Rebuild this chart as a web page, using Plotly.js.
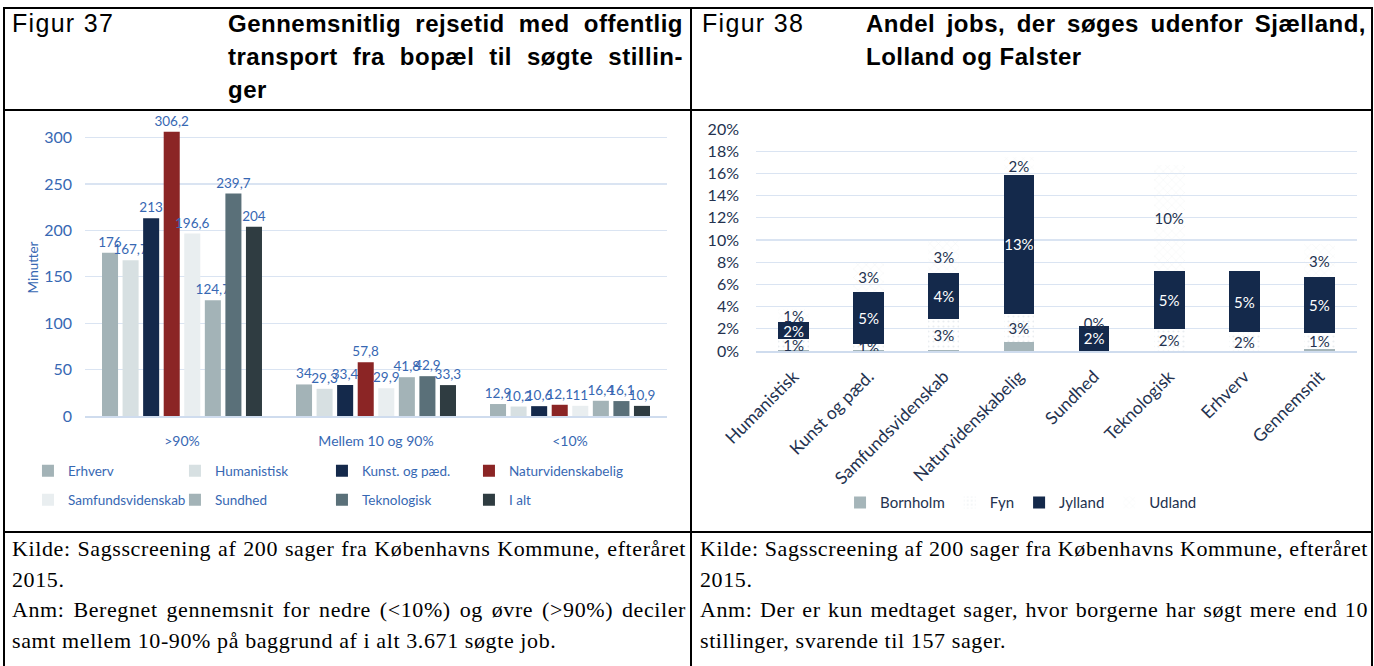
<!DOCTYPE html>
<html><head><meta charset="utf-8">
<script src="https://cdn.plot.ly/plotly-3.0.1.min.js"></script>
<style>
body{margin:0;width:1374px;height:666px;background:#fff;position:relative;overflow:hidden;font-family:"Liberation Sans",Arial,sans-serif;color:#000;}
.ln{position:absolute;background:#000;}
.t{position:absolute;white-space:nowrap;}
.hd{font-size:25px;line-height:33px;letter-spacing:1.3px;}
.bt{font-weight:bold;font-size:24px;line-height:33px;letter-spacing:0.5px;}
.just{display:block;text-align:justify;text-align-last:justify;white-space:nowrap;}
.fn{font-family:"Liberation Serif","Times New Roman",serif;font-size:22px;line-height:30.7px;letter-spacing:0.6px;}
.chart{position:absolute;}
</style></head>
<body>
<div class="ln" style="left:3px;top:7px;width:1370px;height:2px"></div>
<div class="ln" style="left:3px;top:109px;width:1370px;height:2px"></div>
<div class="ln" style="left:3px;top:531px;width:1370px;height:2px"></div>
<div class="ln" style="left:3px;top:7px;width:2px;height:660px"></div>
<div class="ln" style="left:690px;top:7px;width:2px;height:660px"></div>
<div class="ln" style="left:1371px;top:7px;width:2px;height:660px"></div>

<div class="t hd" style="left:12px;top:7px">Figur 37</div>
<div class="t bt" style="left:228px;top:7px;width:455px">
  <div class="just">Gennemsnitlig rejsetid med offentlig</div>
  <div class="just">transport fra bopæl til søgte stillin-</div>
  <div>ger</div>
</div>
<div class="t hd" style="left:702px;top:7px">Figur 38</div>
<div class="t bt" style="left:866px;top:7px;width:500px">
  <div class="just">Andel jobs, der søges udenfor Sjælland,</div>
  <div>Lolland og Falster</div>
</div>

<div class="t fn" style="left:12px;top:534px;width:674px">
  <div class="just">Kilde: Sagsscreening af 200 sager fra Københavns Kommune, efteråret</div>
  <div>2015.</div>
  <div class="just">Anm: Beregnet gennemsnit for nedre (&lt;10%) og øvre (&gt;90%) deciler</div>
  <div>samt mellem 10-90% på baggrund af i alt 3.671 søgte job.</div>
</div>
<div class="t fn" style="left:700px;top:534px;width:668px">
  <div class="just">Kilde: Sagsscreening af 200 sager fra Københavns Kommune, efteråret</div>
  <div>2015.</div>
  <div class="just">Anm: Der er kun medtaget sager, hvor borgerne har søgt mere end 10</div>
  <div>stillinger, svarende til 157 sager.</div>
</div>

<div id="left" class="chart" style="left:5px;top:111px;width:685px;height:420px"></div>
<div id="right" class="chart" style="left:692px;top:111px;width:679px;height:420px"></div>

<script>
// ---- Figur 37 data ----
const groups = [">90%", "Mellem 10 og 90%", "<10%"];
const fields = ["Erhverv", "Humanistisk", "Kunst. og pæd.", "Naturvidenskabelig", "Samfundsvidenskab", "Sundhed", "Teknologisk", "I alt"];
const erhverv = [176, 34, 12.9];
const humanistisk = [167.7, 29.3, 10.2];
const kunst = [213, 33.4, 10.6];
const natur = [306.2, 57.8, 12.1];
const samfund = [196.6, 29.9, 11];
const sundhed = [124.7, 41.8, 16.4];
const tekno = [239.7, 42.9, 16.1];
const ialt = [204, 33.3, 10.9];
const yTicks37 = [0, 50, 100, 150, 200, 250, 300];

// ---- Figur 38 data (percent) ----
const categories = ["Humanistisk", "Kunst og pæd.", "Samfundsvidenskab", "Naturvidenskabelig", "Sundhed", "Teknologisk", "Erhverv", "Gennemsnit"];
const regions = ["Bornholm", "Fyn", "Jylland", "Udland"];
const bornholm = [0.05, 0.1, 0.1, 0.77, 0, 0, 0, 0.15];
const fyn = [0.99, 0.55, 2.75, 2.53, 0, 1.96, 1.69, 1.48];
const jylland = [1.55, 4.7, 4.18, 12.6, 2.28, 5.22, 5.49, 5.07];
const udland = [1.2, 2.6, 2.86, 1.6, 0.4, 9.6, 0, 2.9];
const yTicks38 = [0, 2, 4, 6, 8, 10, 12, 14, 16, 18, 20];

const blue = '#3768b3';
const navy = '#24324f';
const FONT = 'Lato, "Open Sans", sans-serif';

const leftSeries = [erhverv, humanistisk, kunst, natur, samfund, sundhed, tekno, ialt];
const leftColors = ['#a3b3b7', '#d7e0e2', '#14294b', '#8b2525', '#e9eef0', '#a3b3b7', '#5a7079', '#2f3c41'];
const leftTraces = leftSeries.map((vals, i) => ({
  type: 'bar', name: fields[i], x: groups, y: vals,
  marker: {color: leftColors[i]},
  text: vals.map(v => String(v).replace('.', ',')),
  textposition: 'outside', constraintext: 'none', cliponaxis: false,
  textfont: {color: blue, size: 13.5, family: FONT},
  legend: i < 4 ? 'legend' : 'legend2',
  legendwidth: (i % 4 === 3) ? 150 : 102
}));

const legBase = {orientation: 'h', xanchor: 'left', x: -0.098, yanchor: 'middle',
  font: {color: blue, size: 13.5, family: FONT}, bgcolor: 'rgba(0,0,0,0)'};

Plotly.newPlot('left', leftTraces, {
  width: 685, height: 420,
  margin: {l: 80, r: 23, t: 8, b: 115},
  paper_bgcolor: 'rgba(0,0,0,0)', plot_bgcolor: 'rgba(0,0,0,0)',
  barmode: 'group', bargap: 0.152, bargroupgap: 0.22,
  font: {family: FONT},
  xaxis: {showgrid: false, showline: true, linecolor: '#cfdcee', linewidth: 1.5, ticks: '',
    tickfont: {color: blue, size: 14, family: FONT}, ticklabelstandoff: 12},
  yaxis: {range: [0, 320], tickvals: yTicks37, gridcolor: '#dae4f2', gridwidth: 1.2, zeroline: false,
    showline: false, ticks: '', tickfont: {color: blue, size: 16, family: FONT}, ticklabelstandoff: 12,
    title: {text: 'Minutter', font: {color: blue, size: 13.5, family: FONT}, standoff: 2}},
  showlegend: true,
  legend: Object.assign({}, legBase, {y: -0.185}),
  legend2: Object.assign({}, legBase, {y: -0.283})
}, {staticPlot: true});

const pct = v => v > 0 ? Math.round(v) + '%' : '';
const rightTraces = [
  {type: 'bar', name: regions[0], x: categories, y: bornholm, marker: {color: '#a5b5b9'}},
  {type: 'bar', name: regions[1], x: categories, y: fyn,
    marker: {color: '#e9edf0', pattern: {shape: '.', size: 5, solidity: 0.15, fillmode: 'replace'}},
    text: fyn.map(pct), textposition: 'inside', textangle: 0, constraintext: 'none', insidetextanchor: 'middle',
    insidetextfont: {color: navy, size: 15, family: FONT}},
  {type: 'bar', name: regions[2], x: categories, y: jylland, marker: {color: '#14294b'},
    text: jylland.map(pct), textposition: 'inside', textangle: 0, constraintext: 'none', insidetextanchor: 'middle',
    insidetextfont: {color: '#ffffff', size: 15, family: FONT}},
  {type: 'bar', name: regions[3], x: categories, y: udland,
    marker: {color: '#e6eaed', pattern: {shape: 'x', size: 6, solidity: 0.08, fillmode: 'replace'}},
    text: udland.map(pct), textposition: 'inside', textangle: 0, constraintext: 'none', insidetextanchor: 'middle',
    insidetextfont: {color: navy, size: 15, family: FONT}}
];

Plotly.newPlot('right', rightTraces, {
  width: 679, height: 420,
  margin: {l: 64, r: 14, t: 18, b: 177},
  paper_bgcolor: 'rgba(0,0,0,0)', plot_bgcolor: 'rgba(0,0,0,0)',
  barmode: 'stack', bargap: 0.59,
  font: {family: FONT},
  xaxis: {showgrid: false, showline: true, linecolor: '#cfdcee', linewidth: 1.5, ticks: '', tickangle: -45,
    tickfont: {color: navy, size: 17.5, family: FONT}, ticklabelstandoff: 7},
  yaxis: {range: [0, 20], tickvals: yTicks38, ticktext: yTicks38.map(v => v + '%'), gridcolor: '#dae4f2', gridwidth: 1.2, zeroline: false,
    showline: false, ticks: '', tickfont: {color: navy, size: 16, family: FONT}, ticklabelstandoff: 16},
  showlegend: true,
  legend: {orientation: 'h', xanchor: 'center', x: 0.441, yanchor: 'middle', y: -0.684, traceorder: 'normal',
    font: {color: navy, size: 15, family: FONT}, bgcolor: 'rgba(0,0,0,0)'}
}, {staticPlot: true});
</script>
</body></html>
